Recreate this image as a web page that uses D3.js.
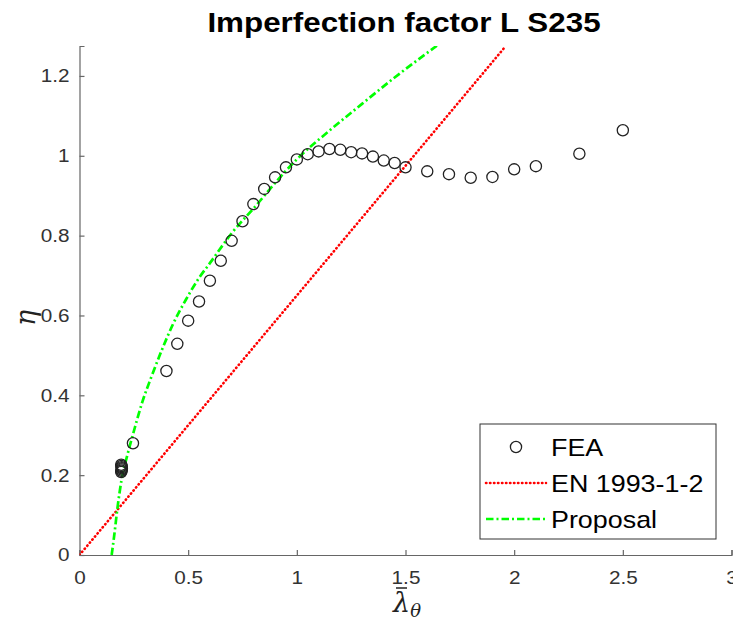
<!DOCTYPE html>
<html lang="en">
<head>
    <meta charset="UTF-8">
    <script src="https://d3js.org/d3.v7.min.js"></script>
</head>
<style>
    body { margin: 0; background: white; }
    svg { display: block; background: white; }
    .tick text { font-family: "Liberation Sans", Arial, sans-serif; font-size: 18.5px; fill: #333; }
    .domain, .tick line { stroke: #666; stroke-width: 1.2px; }
</style>
<body>
<div class="chart"></div>
<script>
    const width = 733,
        height = 624

    // FEA results
    const feaLambda = [0.192, 0.193, 0.194, 0.195, 0.194, 0.193, 0.192, 0.246,
        0.4, 0.45, 0.5, 0.55, 0.6, 0.65, 0.7, 0.75, 0.8, 0.85, 0.9, 0.95, 1.0,
        1.05, 1.1, 1.15, 1.2, 1.25, 1.3, 1.35, 1.4, 1.45, 1.5,
        1.6, 1.7, 1.8, 1.9, 2.0, 2.1, 2.3, 2.5]
    const feaEta = [0.208, 0.211, 0.214, 0.217, 0.220, 0.223, 0.226, 0.28,
        0.461, 0.529, 0.587, 0.635, 0.687, 0.737, 0.787, 0.836, 0.879, 0.917, 0.946, 0.971, 0.991,
        1.004, 1.011, 1.017, 1.015, 1.009, 1.006, 0.998, 0.988, 0.982, 0.971,
        0.961, 0.954, 0.945, 0.947, 0.966, 0.974, 1.005, 1.064]

    // EN 1993-1-2 line
    const enLambda = [0, 1.96]
    const enEta = [0, 1.274]

    // proposal curve
    const propLambda = [0.148, 0.16, 0.174, 0.194, 0.22, 0.25, 0.29, 0.33, 0.38, 0.43, 0.49,
        0.55, 0.6, 0.7, 0.815, 0.9, 1.0, 1.15, 1.3, 1.45, 1.65]
    const propEta = [0, 0.05, 0.115, 0.19, 0.25, 0.31, 0.385, 0.445, 0.515, 0.578, 0.64,
        0.694, 0.731, 0.806, 0.877, 0.932, 0.991, 1.063, 1.13, 1.196, 1.278]

    const xTicks = [0, 0.5, 1, 1.5, 2, 2.5, 3]
    const yTicks = [0, 0.2, 0.4, 0.6, 0.8, 1, 1.2]
    const legendLabels = ['FEA', 'EN 1993-1-2', 'Proposal']

    const plotLeft = 79.5, plotRight = 731.5, plotTop = 46, plotBottom = 555
    const sx = 1.12 // glyphs in the picture are a bit wide

    const x = d3.scaleLinear().domain([0, 3]).range([plotLeft, plotRight])
    const y = d3.scaleLinear().domain([0, 1.275]).range([plotBottom, plotTop])

    const svg = d3.select('.chart')
        .append('svg')
        .attr('width', width)
        .attr('height', height)

    svg.append('defs').append('clipPath')
        .attr('id', 'plot')
        .append('rect')
        .attr('x', plotLeft).attr('y', plotTop)
        .attr('width', plotRight - plotLeft).attr('height', plotBottom - plotTop)

    // axes
    const xAxis = svg.append('g')
        .attr('transform', `translate(0,${plotBottom})`)
        .call(d3.axisBottom(x).tickValues(xTicks).tickSize(-5).tickPadding(16).tickFormat(d3.format('~g')))
    xAxis.selectAll('text').attr('transform', `scale(${sx},1)`)

    const yAxis = svg.append('g')
        .attr('transform', `translate(${plotLeft},0)`)
        .call(d3.axisLeft(y).tickValues(yTicks).tickSize(-5).tickPadding(9).tickFormat(d3.format('~g')))
    yAxis.selectAll('text').attr('transform', `scale(${sx},1)`)

    const line = d3.line()
        .x(d => x(d[0]))
        .y(d => y(d[1]))

    const plot = svg.append('g').attr('clip-path', 'url(#plot)')

    // red dotted
    plot.append('path')
        .datum(enLambda.map((l, i) => [l, enEta[i]]))
        .attr('d', line)
        .attr('fill', 'none')
        .attr('stroke', '#ff0000')
        .attr('stroke-width', 2.6)
        .attr('stroke-linecap', 'round')
        .attr('stroke-dasharray', '0.4,3.6')

    plot.append('path')
        .datum(propLambda.map((l, i) => [l, propEta[i]]))
        .attr('d', line.curve(d3.curveMonotoneX))
        .attr('fill', 'none')
        .attr('stroke', '#00ff00')
        .attr('stroke-width', 2.7)
        .attr('stroke-dasharray', '7.5,3,2,3')

    svg.append('g').selectAll('.fea')
        .data(feaLambda.map((l, i) => [l, feaEta[i]]))
        .enter().append('circle')
        .attr('class', 'fea')
        .attr('cx', d => x(d[0]))
        .attr('cy', d => y(d[1]))
        .attr('r', 5.6)
        .attr('fill', 'none')
        .attr('stroke', '#222')
        .attr('stroke-width', 1.3)

    // title
    svg.append('text')
        .attr('transform', `translate(404,31.5) scale(${sx},1)`)
        .attr('text-anchor', 'middle')
        .style('font-family', '"Liberation Sans", Arial, sans-serif')
        .style('font-weight', 'bold')
        .style('font-size', '28px')
        .style('fill', '#000')
        .text('Imperfection factor L S235')

    // y label
    svg.append('text')
        .attr('transform', 'translate(35,318) rotate(-90)')
        .attr('text-anchor', 'middle')
        .style('font-family', '"DejaVu Serif", "Liberation Serif", serif')
        .style('font-style', 'italic')
        .style('font-size', '27px')
        .style('fill', '#222')
        .text('η')

    // x label: lambda bar with theta subscript
    const xl = svg.append('text')
        .attr('transform', 'translate(393,612)')
        .style('font-family', '"DejaVu Serif", "Liberation Serif", serif')
        .style('font-style', 'italic')
        .style('fill', '#222')
    xl.append('tspan').style('font-size', '27px').text('λ')
    xl.append('tspan').attr('dy', 5).style('font-size', '18px').text('θ')
    svg.append('line')
        .attr('x1', 396).attr('x2', 407)
        .attr('y1', 588).attr('y2', 588)
        .attr('stroke', '#222').attr('stroke-width', 1.5)

    // legend
    const lg = svg.append('g')
    lg.append('rect')
        .attr('x', 480).attr('y', 424)
        .attr('width', 236).attr('height', 115)
        .attr('fill', 'white')
        .attr('stroke', '#333')
        .attr('stroke-width', 1)

    const rows = [447, 483, 519]
    lg.append('circle')
        .attr('cx', 516).attr('cy', rows[0])
        .attr('r', 5.6)
        .attr('fill', 'none').attr('stroke', '#222').attr('stroke-width', 1.3)
    lg.append('line')
        .attr('x1', 486).attr('x2', 546).attr('y1', rows[1]).attr('y2', rows[1])
        .attr('stroke', '#ff0000').attr('stroke-width', 2.6)
        .attr('stroke-linecap', 'round').attr('stroke-dasharray', '0.4,3.6')
    lg.append('line')
        .attr('x1', 486).attr('x2', 546).attr('y1', rows[2]).attr('y2', rows[2])
        .attr('stroke', '#00ff00').attr('stroke-width', 2.7).attr('stroke-dasharray', '7.5,3,2,3')

    lg.selectAll('.lab')
        .data(legendLabels)
        .enter().append('text')
        .attr('class', 'lab')
        .attr('transform', (d, i) => `translate(551,${rows[i] + 8.5}) scale(${sx},1)`)
        .style('font-family', '"Liberation Sans", Arial, sans-serif')
        .style('font-size', '24px')
        .style('fill', '#000')
        .text(d => d)
</script>
</body>
</html>
